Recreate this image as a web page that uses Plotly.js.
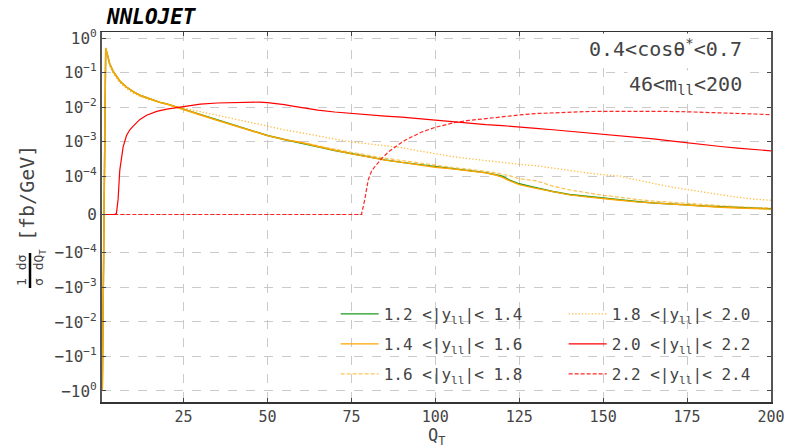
<!DOCTYPE html>
<html>
<head>
<meta charset="utf-8">
<script src="https://cdn.plot.ly/plotly-3.0.1.min.js"></script>
<style>html,body{margin:0;padding:0;background:#fff}#chart{width:787px;height:448px}</style>
</head>
<body>
<div id="chart"></div>
<script>
// ---------------- data ----------------
const qt = [0.8,1.8,2.5,3,4,5,6,8,10,12,15,18,20,22.5,25,30,35,40,45,50,55,60,65,70,75,80,85,90,95,100,105,110,115,118,120,122,125,130,135,140,145,150,155,160,165,170,175,180,185,190,195,200];

const y12_14 = [-0.9,0.5,0.28,0.18,0.11,0.078,0.057,0.038,0.028,0.022,0.017,0.0137,0.0124,0.0104,0.0089,0.006,0.0042,0.00295,0.0021,0.0015,0.00115,0.00092,0.00071,0.00055,0.00044,0.000355,0.000295,0.00025,0.00022,0.00019,0.000166,0.000145,0.000126,0.00011,0.0001,0.00009,0.00008,0.00007,0.00006,0.000052,0.000047,0.000042,0.000038,0.000034,0.00003,0.000028,0.000025,0.000022,0.00002,0.000018,0.000016,0.000015];

const y14_16 = [-0.95,0.52,0.29,0.18,0.11,0.079,0.058,0.038,0.028,0.022,0.017,0.0137,0.0123,0.0103,0.0088,0.0059,0.0041,0.0029,0.0021,0.00149,0.00114,0.00094,0.00072,0.00056,0.00044,0.00036,0.00029,0.00025,0.00021,0.00018,0.000162,0.000143,0.000124,0.000108,0.000097,0.000088,0.000078,0.000068,0.000059,0.000051,0.000046,0.000041,0.000037,0.000033,0.00003,0.000027,0.000024,0.000021,0.000019,0.000017,0.000016,0.000014];

const y16_18 = [-0.92,0.48,0.27,0.175,0.107,0.078,0.056,0.037,0.0275,0.0215,0.0168,0.0136,0.0122,0.0102,0.0088,0.006,0.0042,0.003,0.0021,0.00152,0.00118,0.00096,0.00076,0.0006,0.00048,0.0004,0.00033,0.00028,0.00024,0.0002,0.000178,0.000158,0.000138,0.000125,0.000112,0.000104,0.000093,0.000088,0.000074,0.000064,0.000057,0.00005,0.000045,0.000039,0.000035,0.000032,0.000029,0.000025,0.000022,0.00002,0.000018,0.000017];

const y18_20 = [-0.85,0.42,0.24,0.155,0.095,0.068,0.05,0.034,0.025,0.0205,0.016,0.0132,0.012,0.0103,0.0092,0.0072,0.0056,0.0044,0.0035,0.0028,0.0022,0.0018,0.00145,0.00115,0.00097,0.00086,0.00077,0.00067,0.00054,0.00044,0.00037,0.00032,0.00028,0.00026,0.00025,0.00023,0.00022,0.0002,0.00017,0.00014,0.000125,0.00011,0.0001,0.00009,0.00008,0.000072,0.000065,0.000058,0.00005,0.000045,0.00004,0.000037];

const qt20 = [0.8,1.8,2.5,3,4,4.5,5,5.5,6,6.5,7,8,9,10,12,14,17,20,25,30,35,40,45,47.5,50,52.5,55,57.5,60,62.5,65,70,75,80,85,90,95,100,105,110,115,120,125,130,135,140,145,150,155,160,165,170,175,180,185,190,195,200];
const y20_22 = [0,0,0,0,0,0,3e-6,4e-5,1.5e-4,3.5e-4,7e-4,1.5e-3,2.2e-3,2.8e-3,4.4e-3,5.8e-3,7.5e-3,8.7e-3,0.0103,0.0121,0.0131,0.0136,0.0139,0.0139,0.0135,0.0128,0.0118,0.0107,0.0097,0.0089,0.0082,0.0072,0.0065,0.0059,0.0055,0.0051,0.0046,0.0041,0.0037,0.0034,0.0031,0.0029,0.0027,0.0024,0.0022,0.002,0.0018,0.0016,0.0015,0.0013,0.0012,0.00105,0.00092,0.0008,0.00072,0.00065,0.00059,0.00054];

const qt22 = [0.8,10,20,30,40,50,60,70,78,79,80,81,82,84,86,88.5,91,93.5,96,100,103,106,110,115,120,125,130,135,140,145,150,155,160,165,170,175,180,185,190,195,200];
const y22_24 = [0,0,0,0,0,0,0,0,0,4e-5,9e-5,1.4e-4,1.9e-4,3.2e-4,5e-4,7.5e-4,1.1e-3,1.45e-3,1.9e-3,2.6e-3,3.1e-3,3.6e-3,4.1e-3,4.7e-3,5.3e-3,5.9e-3,6.5e-3,6.9e-3,7.2e-3,7.4e-3,7.55e-3,7.6e-3,7.6e-3,7.55e-3,7.45e-3,7.3e-3,7.1e-3,6.9e-3,6.6e-3,6.3e-3,6.0e-3];

const seriesNames = [
  '1.2 &lt;|y<sub>ll</sub>|&lt; 1.4',
  '1.4 &lt;|y<sub>ll</sub>|&lt; 1.6',
  '1.6 &lt;|y<sub>ll</sub>|&lt; 1.8',
  '1.8 &lt;|y<sub>ll</sub>|&lt; 2.0',
  '2.0 &lt;|y<sub>ll</sub>|&lt; 2.2',
  '2.2 &lt;|y<sub>ll</sub>|&lt; 2.4'
];
const yTickValues = [1, 1e-1, 1e-2, 1e-3, 1e-4, 0, -1e-4, -1e-3, -1e-2, -1e-1, -1];
const yTickLabels = ['10<sup>0</sup>','10<sup>−1</sup>','10<sup>−2</sup>','10<sup>−3</sup>','10<sup>−4</sup>','0',
  '−10<sup>−4</sup>','−10<sup>−3</sup>','−10<sup>−2</sup>','−10<sup>−1</sup>','−10<sup>0</sup>'];
const xTickValues = [25,50,75,100,125,150,175,200];

// ---------------- symlog transform (linthresh 1e-4, linscale 1) ----------------
const LT = 1e-4, LS = 1/(1-1/10);
function sym(v){ const a=Math.abs(v); if(a<=LT) return LS*v/LT; return Math.sign(v)*(LS+Math.log10(a/LT)); }

const FONT = 'DejaVu Sans Mono';
const L = 102, R = 771, T = 32, B = 402, W = 787, H = 448;
const px = p => (p - L)/(R - L);
const py = p => (B - p)/(B - T);

const styles = [
  {color:'#1f9a1f', dash:'solid', width:1.4},
  {color:'#FFA500', dash:'solid', width:1.4},
  {color:'rgba(255,165,0,0.65)', dash:'4px,2px', width:1.3},
  {color:'rgba(255,165,0,0.75)', dash:'1.3px,2px', width:1.3},
  {color:'#FF0000', dash:'solid', width:1.2},
  {color:'rgba(255,0,0,0.85)', dash:'4px,2px', width:1.2}
];
const xs = [qt, qt, qt, qt, qt20, qt22];
const ys = [y12_14, y14_16, y16_18, y18_20, y20_22, y22_24];
const legendIds = ['legend','legend2','legend3','legend4','legend5','legend6'];

const data = ys.map((arr,i)=>({
  type:'scatter', mode:'lines', x: xs[i], y: arr.map(sym),
  name: seriesNames[i], line: styles[i], legend: legendIds[i]
}));

const legPos = [[341,314],[341,344],[341,374],[569,314],[569,344],[569,374]];
const layout = {
  width: W, height: H,
  margin: {l: L, r: W-R, t: T, b: H-B},
  paper_bgcolor:'#fff', plot_bgcolor:'#fff',
  font:{family: FONT, color:'#444'},
  xaxis:{range:[0.7,200], tickvals:xTickValues, ticks:'inside', ticklen:4, tickcolor:'#444',
    showgrid:true, gridcolor:'#bdbdbd', griddash:'dash', gridwidth:0.8, zeroline:false,
    showline:true, linecolor:'#333', linewidth:1.5, mirror:'ticks',
    tickfont:{family:FONT, size:15, color:'#444'}},
  yaxis:{range:[-5.43,5.285], tickvals: yTickValues.map(sym), ticktext: yTickLabels,
    ticks:'inside', ticklen:4, tickcolor:'#444',
    showgrid:true, gridcolor:'#bdbdbd', griddash:'dash', gridwidth:0.8, zeroline:false,
    showline:true, linecolor:'#555', linewidth:2, mirror:'ticks',
    tickfont:{family:FONT, size:16, color:'#444'}},
  shapes:[
    {type:'rect', xref:'paper', yref:'paper', x0:px(326), x1:px(765), y0:py(397), y1:py(296),
     fillcolor:'#fff', line:{width:0}, layer:'between'},
    {type:'line', xref:'paper', yref:'paper', x0:px(30), x1:px(30), y0:py(253), y1:py(288),
     line:{color:'#000', width:2.5}}
  ],
  annotations:[
    {xref:'paper', yref:'paper', x:px(104), y:py(17), xanchor:'left', yanchor:'middle', showarrow:false,
     text:'<b><i>NNLOJET</i></b>', font:{family:FONT, size:21, color:'#000'}},
    {xref:'paper', yref:'paper', x:px(744), y:py(48), xanchor:'right', yanchor:'middle', showarrow:false,
     text:'0.4&lt;cosθ<sup>*</sup>&lt;0.7', font:{family:FONT, size:20, color:'#444'}, bgcolor:'#fff'},
    {xref:'paper', yref:'paper', x:px(744), y:py(85), xanchor:'right', yanchor:'middle', showarrow:false,
     text:'46&lt;m<sub>ll</sub>&lt;200', font:{family:FONT, size:20, color:'#444'}, bgcolor:'#fff'},
    {xref:'paper', yref:'paper', x:px(436), y:py(436), xanchor:'center', yanchor:'middle', showarrow:false,
     text:'Q<sub>T</sub>', font:{family:FONT, size:17, color:'#444'}},
    {xref:'paper', yref:'paper', x:px(27), y:py(193), xanchor:'center', yanchor:'middle', showarrow:false,
     textangle:-90, text:'[fb/GeV]', font:{family:FONT, size:20, color:'#444'}},
    {xref:'paper', yref:'paper', x:px(21), y:py(271), xanchor:'center', yanchor:'middle', showarrow:false,
     textangle:-90, text:'1 dσ', font:{family:FONT, size:13, color:'#444'}},
    {xref:'paper', yref:'paper', x:px(39), y:py(268), xanchor:'center', yanchor:'middle', showarrow:false,
     textangle:-90, text:'σ dQ<sub>T</sub>', font:{family:FONT, size:13, color:'#444'}}
  ],
  showlegend:true
};
legendIds.forEach((id,i)=>{
  layout[id] = {x: px(legPos[i][0]) - 0.008, y: py(legPos[i][1]), xanchor:'left', yanchor:'middle',
    bgcolor:'rgba(0,0,0,0)', borderwidth:0, itemwidth:38,
    font:{family:FONT, size:16, color:'#444'}};
});

Plotly.newPlot('chart', data, layout, {displayModeBar:false, staticPlot:true});
</script>
</body>
</html>
